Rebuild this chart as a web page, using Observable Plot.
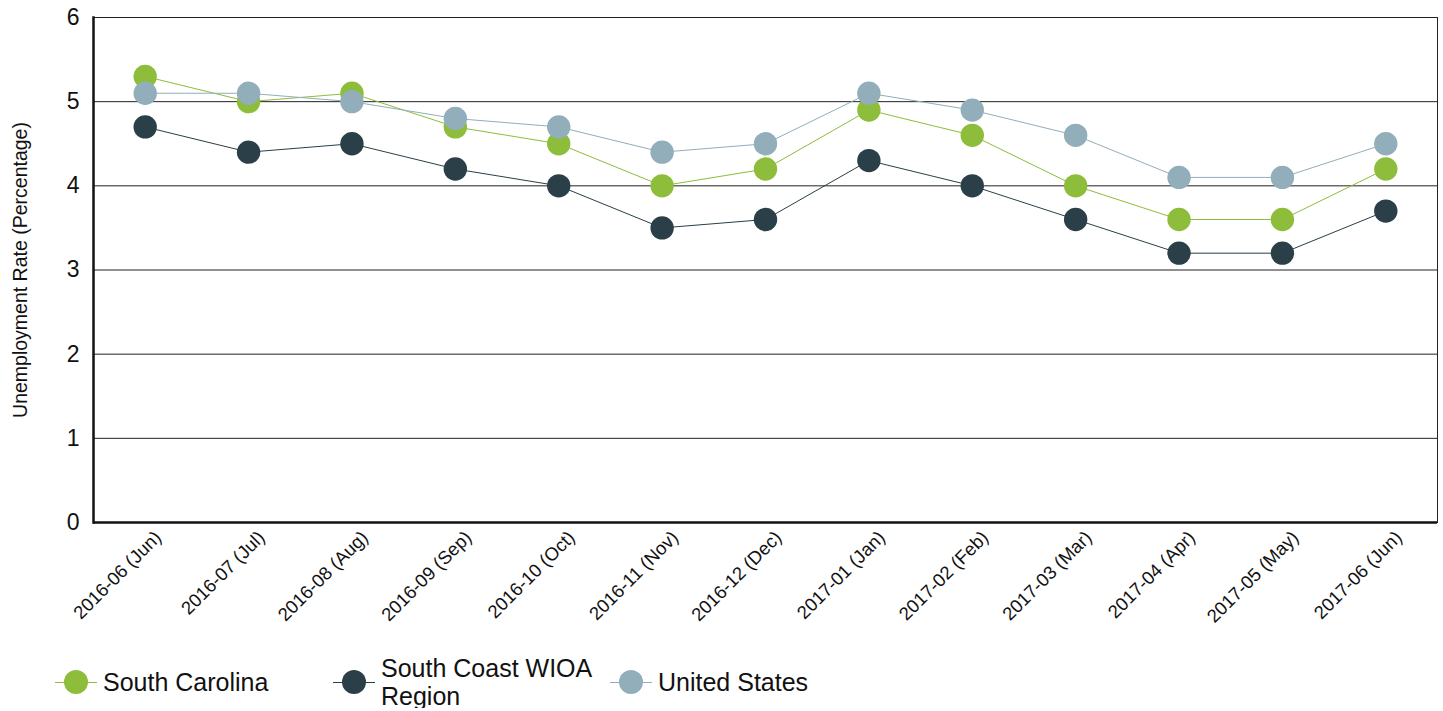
<!DOCTYPE html>
<html><head><meta charset="utf-8">
<script src="https://cdn.jsdelivr.net/npm/d3@7"></script>
<script src="https://cdn.jsdelivr.net/npm/@observablehq/plot@0.6"></script>
<style>
body{margin:0;background:#fff;font-family:"Liberation Sans",Arial,sans-serif;}
#chart svg{display:block;}
#legend{display:flex;align-items:center;padding-left:55px;height:52px;font-size:25px;color:#111;}
.item{display:flex;align-items:center;flex:none;}
.sym{position:relative;width:42px;height:26px;margin-right:6px;flex:none;}
.sym .ln{position:absolute;left:0;right:0;top:12.5px;height:1px;}
.sym .dot{position:absolute;left:9px;top:1px;width:24px;height:24px;border-radius:50%;}
.lbl{line-height:28px;}
</style></head><body>
<div id="chart"></div>
<div id="legend"></div>
<script>
const months = ["2016-06 (Jun)","2016-07 (Jul)","2016-08 (Aug)","2016-09 (Sep)","2016-10 (Oct)","2016-11 (Nov)","2016-12 (Dec)","2017-01 (Jan)","2017-02 (Feb)","2017-03 (Mar)","2017-04 (Apr)","2017-05 (May)","2017-06 (Jun)"];
const seriesNames = ["South Carolina","South Coast WIOA Region","United States"];
const southCarolina = [5.3,5.0,5.1,4.7,4.5,4.0,4.2,4.9,4.6,4.0,3.6,3.6,4.2];
const southCoast = [4.7,4.4,4.5,4.2,4.0,3.5,3.6,4.3,4.0,3.6,3.2,3.2,3.7];
const unitedStates = [5.1,5.1,5.0,4.8,4.7,4.4,4.5,5.1,4.9,4.6,4.1,4.1,4.5];
const yTicks = [0,1,2,3,4,5,6];
const colors = ["#8dbd3a","#2a3f47","#91aeba"];

const drawOrder = [1,0,2];
const data = [];
const valuesBySeries = [southCarolina, southCoast, unitedStates];
for (const s of drawOrder) months.forEach((m,i)=>data.push({month:m, value:valuesBySeries[s][i], series:seriesNames[s]}));

const chart = Plot.plot({
  width:1443, height:656,
  marginTop:17, marginBottom:134, marginLeft:93, marginRight:6,
  style:{fontFamily:"Liberation Sans, Arial, sans-serif", background:"#fff"},
  x:{type:"band", domain:months, padding:0, round:false, label:null},
  y:{domain:[0,6], label:null},
  color:{domain:seriesNames, range:colors},
  marks:[
    Plot.ruleY([1,2,3,4,5], {stroke:"#222", strokeWidth:1}),
    Plot.frame({stroke:"#222", strokeWidth:1}),
    Plot.ruleY([0], {stroke:"#111", strokeWidth:2.5}),
    Plot.frame({anchor:"left", stroke:"#111", strokeWidth:2.5}),
    Plot.axisY({ticks:yTicks, tickFormat:d3.format("d"), tickSize:0, tickPadding:14, fontSize:23, fill:"#111", label:null}),
    Plot.text(["Unemployment Rate (Percentage)"], {frameAnchor:"left", textAnchor:"middle", dx:-73, rotate:-90, fontSize:19.5, fill:"#111"}),
    Plot.axisX({tickSize:0, tickRotate:-45, fontSize:18.5, fill:"#111", tickPadding:12, dx:13, label:null}),
    Plot.line(data, {x:"month", y:"value", z:"series", stroke:"series", strokeWidth:1}),
    Plot.dot(data, {x:"month", y:"value", fill:"series", r:11.7, stroke:"none"})
  ]
});
document.getElementById("chart").appendChild(chart);

const legend = document.getElementById("legend");
const itemWidths = [278,277,300];
seriesNames.forEach((name,i)=>{
  const it = document.createElement("div"); it.className="item"; it.style.width = itemWidths[i]+"px";
  it.innerHTML = `<div class="sym"><div class="ln" style="background:${colors[i]}"></div><div class="dot" style="background:${colors[i]}"></div></div><div class="lbl" style="${i===1?'width:215px':''}">${name}</div>`;
  legend.appendChild(it);
});
</script>
</body></html>
